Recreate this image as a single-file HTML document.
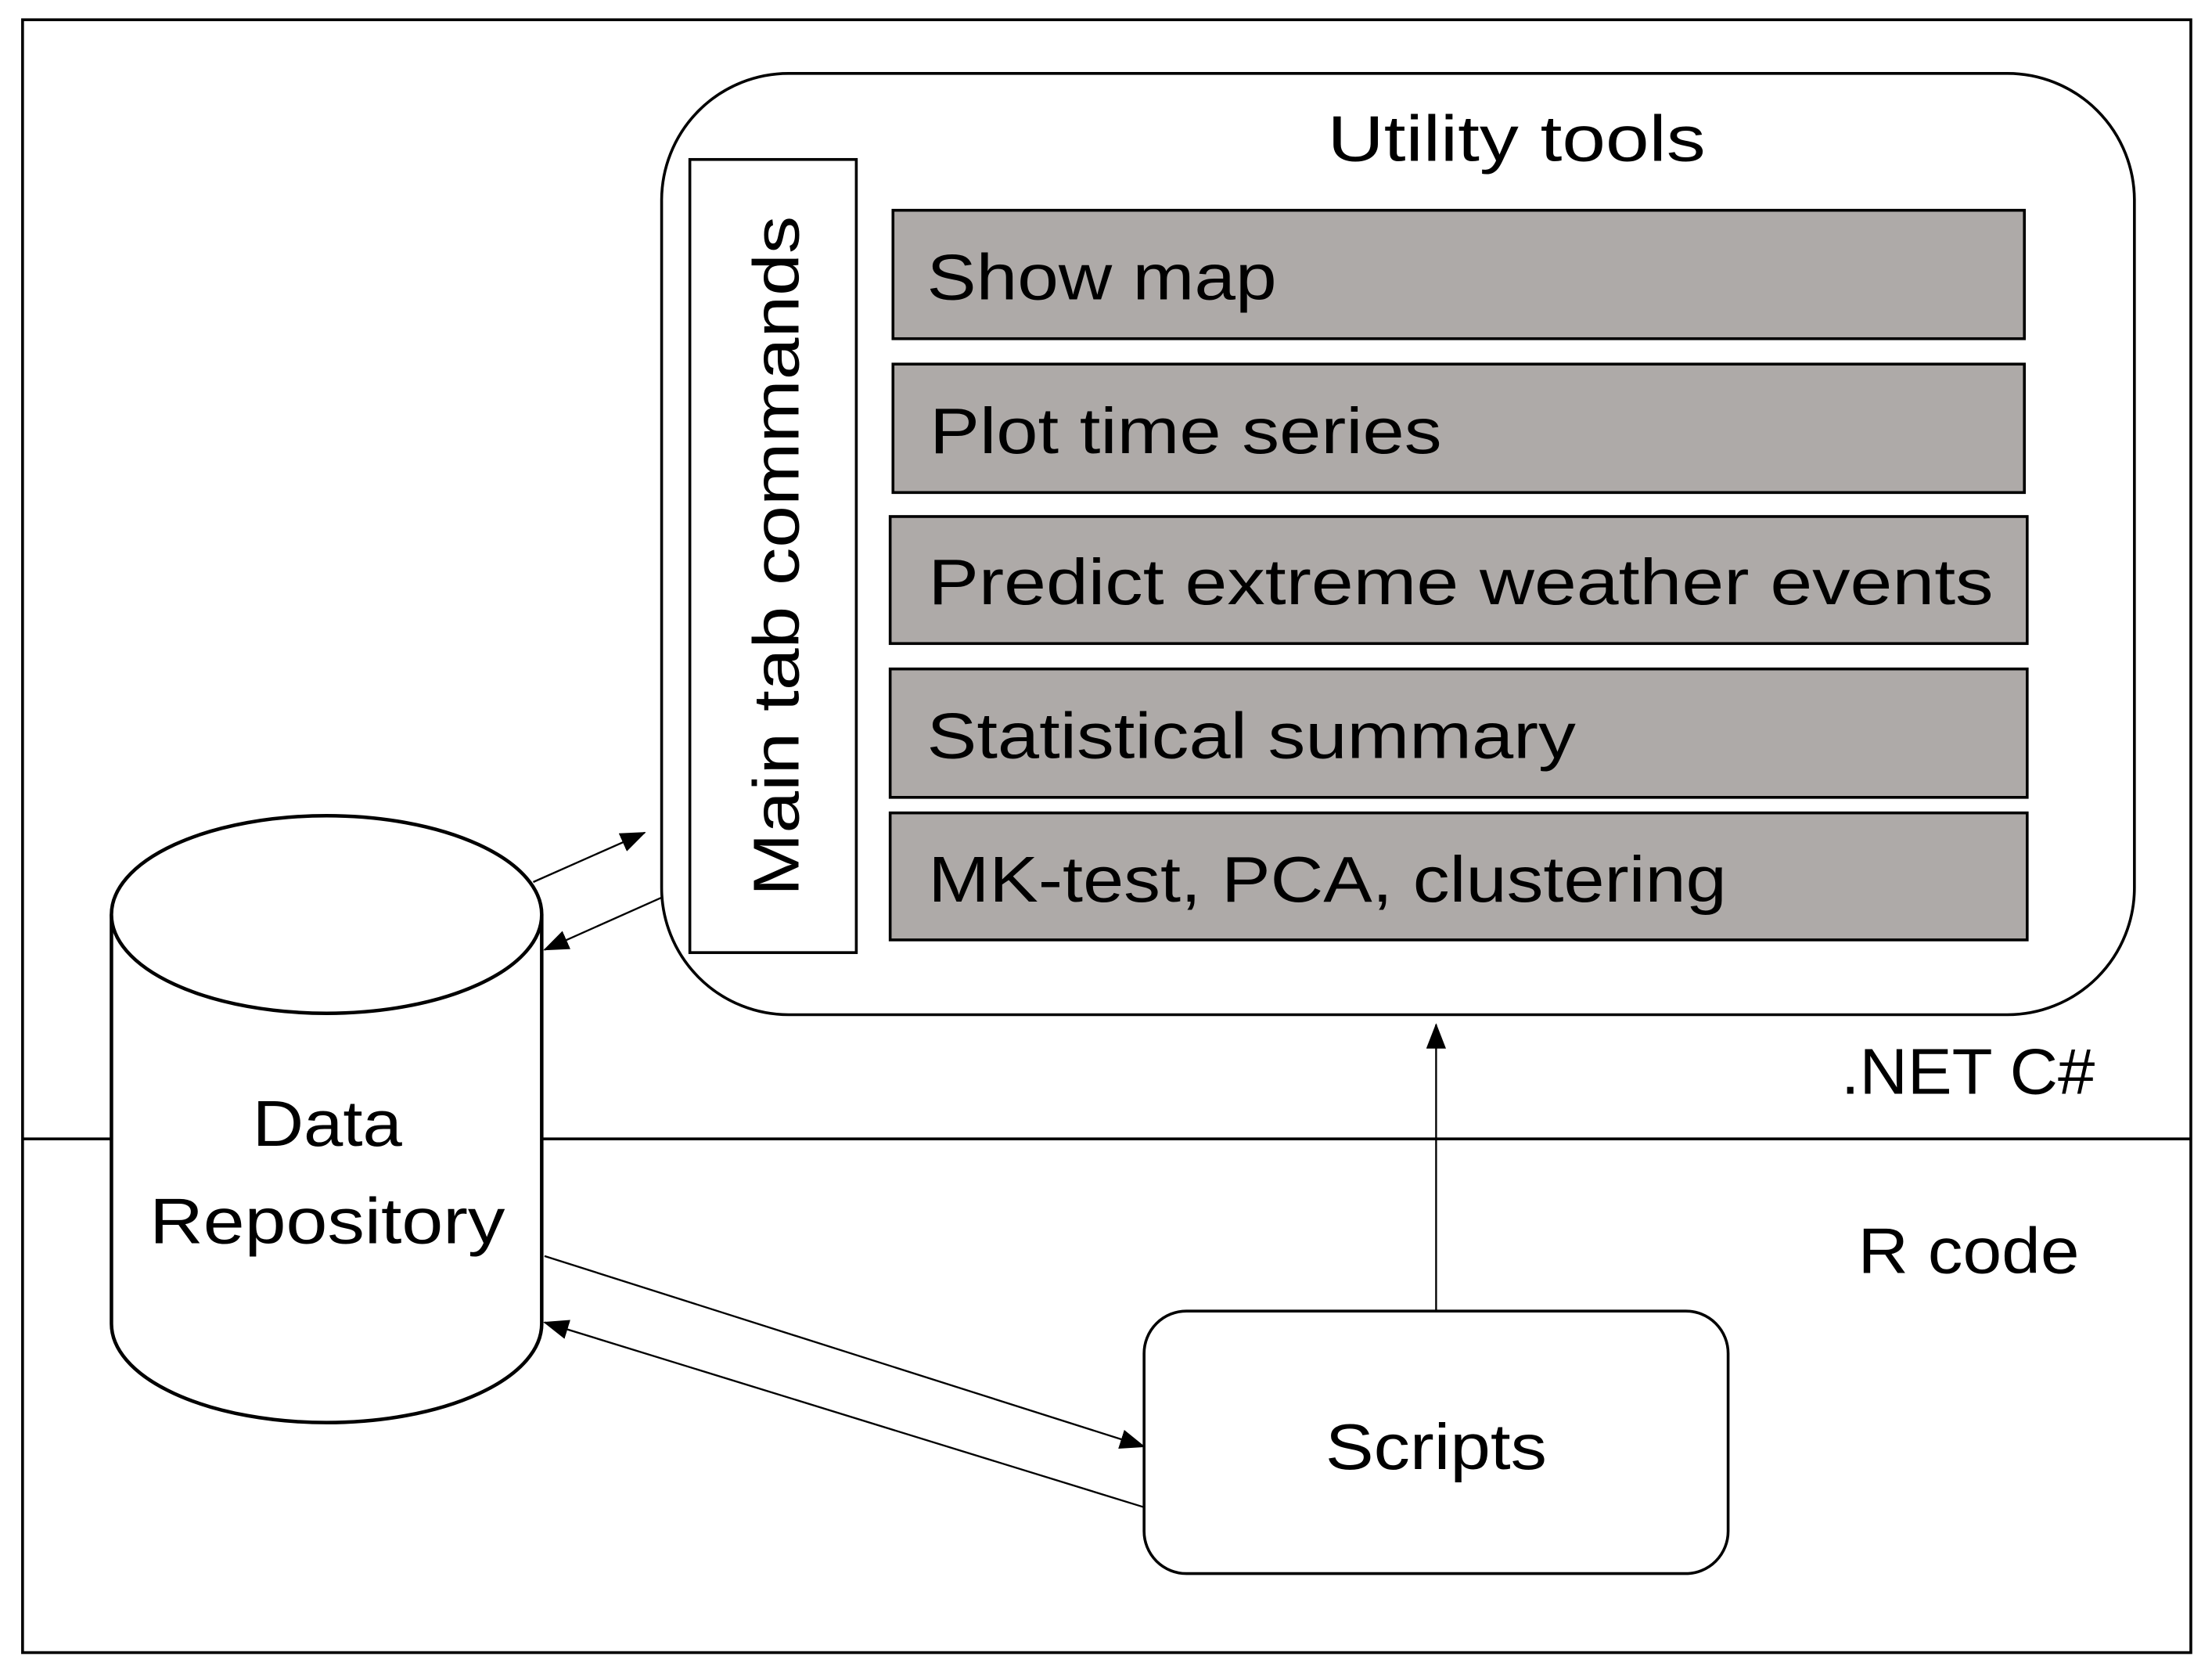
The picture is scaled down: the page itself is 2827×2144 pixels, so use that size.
<!DOCTYPE html>
<html><head><meta charset="utf-8"><style>html,body{margin:0;padding:0;background:#fff}svg{display:block}</style></head>
<body>
<svg width="2827" height="2144" viewBox="0 0 1568 1189" preserveAspectRatio="none" xmlns="http://www.w3.org/2000/svg" font-family="Liberation Sans, sans-serif" fill="#000">
<defs><marker id="a" markerWidth="10" markerHeight="10" refX="9" refY="5" orient="auto" markerUnits="userSpaceOnUse"><path d="M0,0 L10,5 L0,10 z" fill="#000"/></marker>
<marker id="b" markerWidth="18" markerHeight="14" refX="17" refY="7" orient="auto" markerUnits="userSpaceOnUse"><path d="M0,0 L18,7 L0,14 z" fill="#000"/></marker></defs>
<rect x="16" y="14" width="1537" height="1157" fill="#fff" stroke="#000" stroke-width="2"/>
<line x1="16" y1="807" x2="1553" y2="807" stroke="#000" stroke-width="2"/>
<rect x="469" y="52" width="1044" height="667" rx="90" fill="#fff" stroke="#000" stroke-width="2"/>
<text x="1075" y="114" font-size="46" text-anchor="middle" textLength="268" lengthAdjust="spacingAndGlyphs">Utility tools</text>
<rect x="489" y="113" width="118" height="562" fill="#fff" stroke="#000" stroke-width="2"/>
<text transform="translate(566,394) rotate(-90)" font-size="46" text-anchor="middle" textLength="482" lengthAdjust="spacingAndGlyphs">Main tab commands</text>
<g fill="#aeaaa8" stroke="#000" stroke-width="2">
<rect x="633" y="149" width="802" height="91"/>
<rect x="633" y="258" width="802" height="91"/>
<rect x="631" y="366" width="806" height="90"/>
<rect x="631" y="474" width="806" height="91"/>
<rect x="631" y="576" width="806" height="90"/>
</g>
<g font-size="46">
<text x="657" y="212" textLength="248" lengthAdjust="spacingAndGlyphs">Show map</text>
<text x="659" y="321" textLength="363" lengthAdjust="spacingAndGlyphs">Plot time series</text>
<text x="658" y="428" textLength="755" lengthAdjust="spacingAndGlyphs">Predict extreme weather events</text>
<text x="657" y="537" textLength="460" lengthAdjust="spacingAndGlyphs">Statistical summary</text>
<text x="658" y="639" textLength="566" lengthAdjust="spacingAndGlyphs">MK-test, PCA, clustering</text>
</g>
<path d="M79,648 L79,938 A152.5,70 0 0 0 384,938 L384,648" fill="#fff" stroke="#000" stroke-width="2.5"/>
<ellipse cx="231.5" cy="648" rx="152.5" ry="70" fill="#fff" stroke="#000" stroke-width="2.5"/>
<text x="232" y="812" font-size="46" text-anchor="middle" textLength="106" lengthAdjust="spacingAndGlyphs">Data</text>
<text x="232" y="881" font-size="46" text-anchor="middle" textLength="252" lengthAdjust="spacingAndGlyphs">Repository</text>
<text x="1305" y="775" font-size="46" textLength="180" lengthAdjust="spacingAndGlyphs">.NET C#</text>
<text x="1317" y="902" font-size="46" textLength="157" lengthAdjust="spacingAndGlyphs">R code</text>
<rect x="811" y="929" width="414" height="186" rx="30" fill="#fff" stroke="#000" stroke-width="2"/>
<text x="1018" y="1041" font-size="46" text-anchor="middle" textLength="157" lengthAdjust="spacingAndGlyphs">Scripts</text>
<g stroke="#000" stroke-width="1.3" fill="none">
<line x1="378" y1="625" x2="457" y2="590" marker-end="url(#b)"/>
<line x1="469" y1="636" x2="386" y2="673" marker-end="url(#b)"/>
<line x1="386" y1="890" x2="811" y2="1025" marker-end="url(#b)"/>
<line x1="811" y1="1068" x2="386" y2="937" marker-end="url(#b)"/>
<line x1="1018" y1="929" x2="1018" y2="726" marker-end="url(#b)"/>
</g>
</svg>
</body></html>
